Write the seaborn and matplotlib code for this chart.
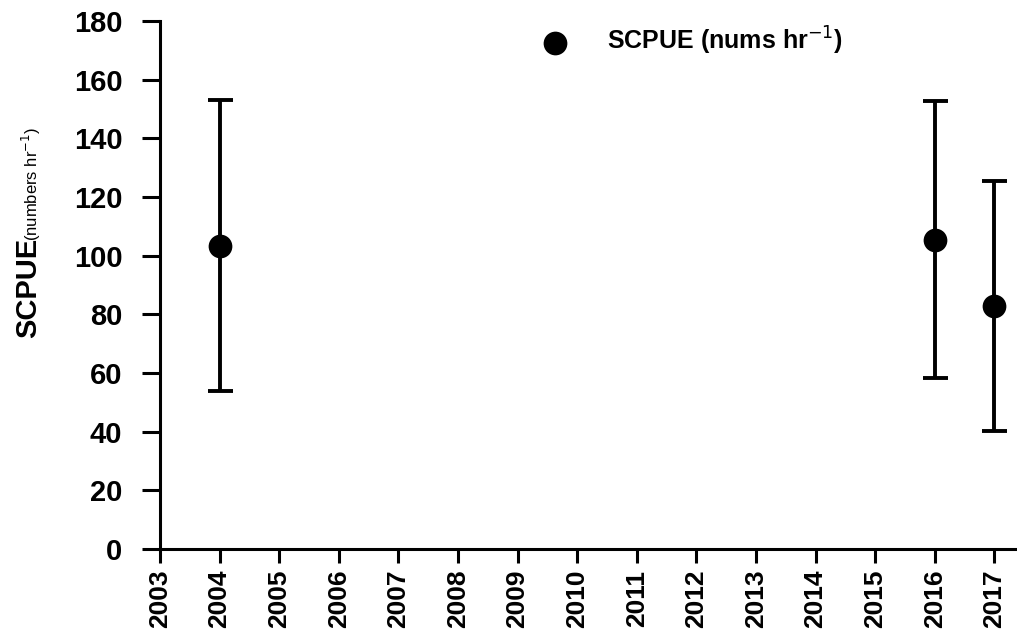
import matplotlib
matplotlib.use('Agg')
import matplotlib.pyplot as plt
import seaborn as sns
import pandas as pd

# Data
years = [2004, 2016, 2017]
scpue = [103.3, 105.4, 82.8]
err = [49.6, 47.2, 42.6]
tick_years = list(range(2003, 2018))
y_ticks = list(range(0, 181, 20))

df = pd.DataFrame({'year': years, 'scpue': scpue, 'err': err})

sns.set_style('ticks')
plt.rcParams['font.family'] = ['Liberation Sans', 'DejaVu Sans']
plt.rcParams.update({'text.color': 'black', 'axes.edgecolor': 'black',
                     'xtick.color': 'black', 'ytick.color': 'black',
                     'axes.labelcolor': 'black'})

fig = plt.figure(figsize=(10.17, 6.39), dpi=100)
ax = fig.add_axes([160 / 1017, 1 - 549 / 639, 1 - 160 / 1017, (549 - 21) / 639])

ax.errorbar(df['year'], df['scpue'], yerr=df['err'], fmt='none', ecolor='black',
            elinewidth=2.8, capsize=9, capthick=2.8, zorder=2)
sns.scatterplot(data=df, x='year', y='scpue', ax=ax, color='black', s=250,
                edgecolor='black', zorder=3, label='SCPUE (nums hr$^{-1}$)')

ax.set_xlim(2003, 2017.38)
ax.set_ylim(0, 180)
ax.set_xticks(tick_years)
ax.set_xticklabels([str(y) for y in tick_years], rotation=90, fontsize=19, fontweight='bold')
ax.set_yticks(y_ticks)
ax.set_yticklabels([str(v) for v in y_ticks], fontsize=21, fontweight='bold')
ax.tick_params(axis='x', direction='out', length=10, width=2.2, pad=5)
ax.tick_params(axis='y', direction='out', length=13, width=2.2, pad=14)
for s in ['top', 'right']:
    ax.spines[s].set_visible(False)
for s in ['left', 'bottom']:
    ax.spines[s].set_linewidth(2.2)
ax.set_xlabel('')
ax.set_ylabel('')

# y label in two parts: bold SCPUE and smaller unit text
fig.text(28 / 1017, 1 - 338 / 639, 'SCPUE', rotation=90, ha='center', va='bottom',
         fontsize=21, fontweight='bold')
fig.text(31 / 1017, 1 - 241 / 639, '(numbers hr$^{-1}$)', rotation=90, ha='center',
         va='bottom', fontsize=12)

leg = ax.legend(loc='upper left', bbox_to_anchor=(0.405, 1.035), frameon=False,
                prop={'size': 18, 'weight': 'bold'}, handletextpad=1.1, markerscale=1.0)

fig.savefig('out.png', dpi=100)
